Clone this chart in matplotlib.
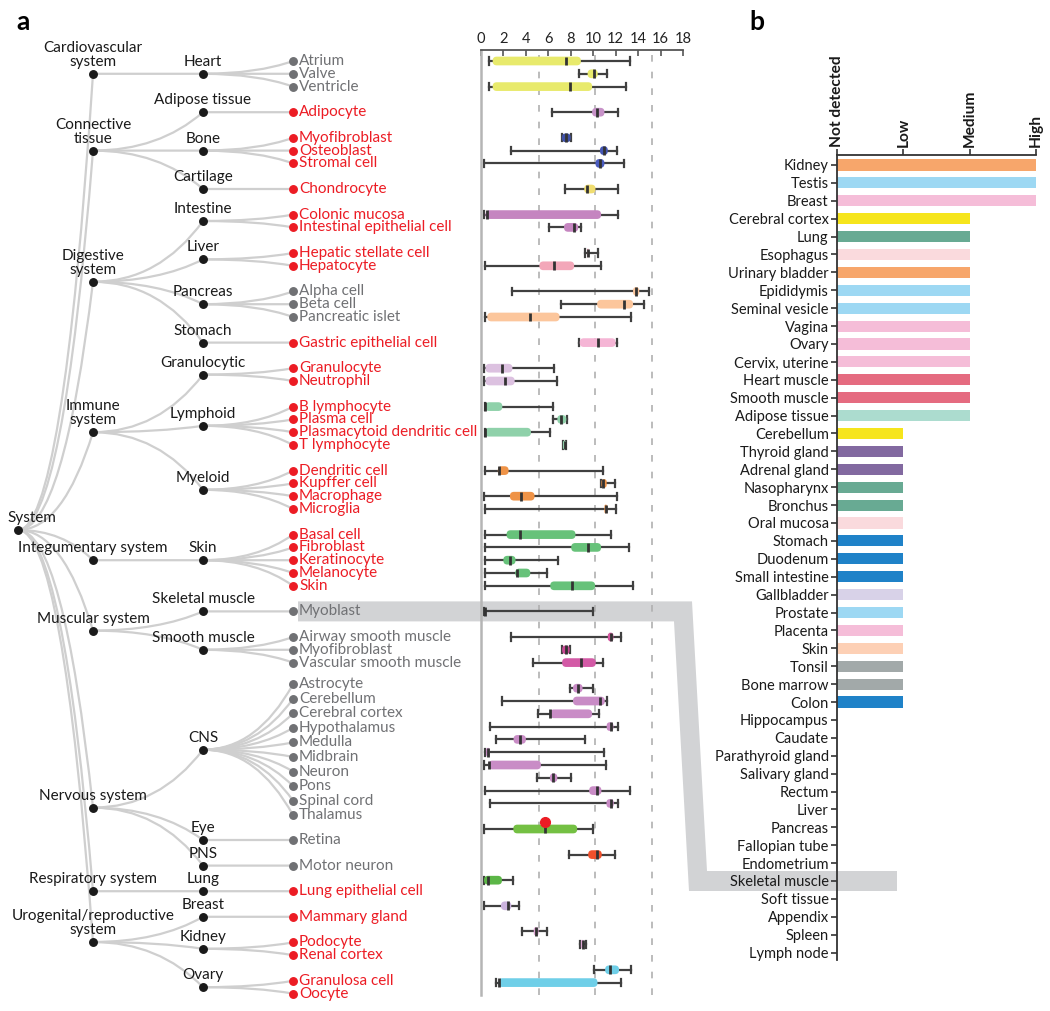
import numpy as np
import matplotlib
matplotlib.use("Agg")
import matplotlib.pyplot as plt
from matplotlib.path import Path
from matplotlib.patches import PathPatch, Polygon, FancyBboxPatch

plt.rcParams['font.family'] = ['Lato', 'DejaVu Sans']

# ---------------- panel a data ----------------
system_names = ["Cardiovascular\nsystem", "Connective\ntissue", "Digestive\nsystem", "Immune\nsystem",
                "Integumentary system", "Muscular system", "Nervous system", "Respiratory system",
                "Urogenital/reproductive\nsystem"]
organ_names = ["Heart", "Adipose tissue", "Bone", "Cartilage", "Intestine", "Liver", "Pancreas", "Stomach",
               "Granulocytic", "Lymphoid", "Myeloid", "Skin", "Skeletal muscle", "Smooth muscle",
               "CNS", "Eye", "PNS", "Lung", "Breast", "Kidney", "Ovary"]
organ_system = [0, 1, 1, 1, 2, 2, 2, 2, 3, 3, 3, 4, 5, 5, 6, 6, 6, 7, 8, 8, 8]

cell_names = ["Atrium", "Valve", "Ventricle", "Adipocyte", "Myofibroblast", "Osteoblast", "Stromal cell",
              "Chondrocyte", "Colonic mucosa", "Intestinal epithelial cell", "Hepatic stellate cell",
              "Hepatocyte", "Alpha cell", "Beta cell", "Pancreatic islet", "Gastric epithelial cell",
              "Granulocyte", "Neutrophil", "B lymphocyte", "Plasma cell", "Plasmacytoid dendritic cell",
              "T lymphocyte", "Dendritic cell", "Kupffer cell", "Macrophage", "Microglia", "Basal cell",
              "Fibroblast", "Keratinocyte", "Melanocyte", "Skin", "Myoblast", "Airway smooth muscle",
              "Myofibroblast", "Vascular smooth muscle", "Astrocyte", "Cerebellum", "Cerebral cortex",
              "Hypothalamus", "Medulla", "Midbrain", "Neuron", "Pons", "Spinal cord", "Thalamus",
              "Retina", "Motor neuron", "Lung epithelial cell", "Mammary gland", "Podocyte",
              "Renal cortex", "Granulosa cell", "Oocyte"]
cell_organ = [0, 0, 0, 1, 2, 2, 2, 3, 4, 4, 5, 5, 6, 6, 6, 7, 8, 8, 9, 9, 9, 9, 10, 10, 10, 10,
              11, 11, 11, 11, 11, 12, 13, 13, 13, 14, 14, 14, 14, 14, 14, 14, 14, 14, 14,
              15, 16, 17, 18, 19, 19, 20, 20]
cell_red = [0, 0, 0, 1, 1, 1, 1, 1, 1, 1, 1, 1, 0, 0, 0, 1, 1, 1, 1, 1, 1, 1, 1, 1, 1, 1,
            1, 1, 1, 1, 1, 0, 0, 0, 0, 0, 0, 0, 0, 0, 0, 0, 0, 0, 0,
            0, 0, 1, 1, 1, 1, 1, 1]

whislo = [0.68, 8.75, 0.68, 6.35, 7.2, 2.67, 0.27, 7.47, 0.3, 6.08, 9.3, 0.33, 2.76, 7.15, 0.39, 8.7,
          0.3, 0.3, 0.36, 6.46, 0.33, 7.3, 0.33, 10.7, 0.3, 0.36, 0.33, 0.33, 0.33, 0.33, 0.33,
          0.3, 2.7, 7.23, 4.65, 7.9, 1.9, 5.1, 0.8, 1.33, 0.39, 0.3, 4.95, 0.36, 0.8,
          0.27, 7.83, 0.27, 0.27, 3.65, 8.8, 10.1, 1.33]
q1 = [1.04, 9.5, 1.04, 9.9, 7.2, 10.6, 10.2, 9.2, 0.4, 7.4, 9.45, 5.2, 13.55, 10.35, 0.56, 8.8,
      0.4, 0.4, 0.36, 6.8, 0.33, 7.3, 1.5, 10.73, 2.58, 11.0, 2.28, 8.04, 1.99, 3.05, 6.17,
      0.3, 11.3, 7.23, 7.23, 8.2, 8.2, 6.14, 11.2, 2.9, 0.45, 0.65, 6.14, 9.64, 11.18,
      2.88, 9.55, 0.27, 1.78, 4.7, 8.9, 11.06, 1.55]
med = [7.6, 10.05, 7.9, 10.3, 7.6, 10.95, 10.6, 9.45, 0.55, 8.3, 9.55, 6.5, 13.85, 12.7, 4.4, 10.4,
       1.9, 2.1, 0.36, 7.15, 0.33, 7.47, 1.63, 10.9, 3.53, 11.1, 3.47, 9.5, 2.58, 3.17, 8.07,
       0.4, 11.6, 7.6, 8.9, 8.63, 10.6, 6.14, 11.6, 3.47, 0.65, 0.7, 6.46, 10.3, 11.6,
       5.66, 10.3, 0.65, 2.43, 4.9, 9.07, 11.47, 1.6]
q3 = [8.9, 10.4, 9.9, 11.0, 8.0, 11.3, 11.0, 10.2, 10.7, 8.66, 9.6, 8.3, 14.1, 13.55, 7.0, 12.0,
      2.8, 3.0, 1.9, 7.6, 4.45, 7.6, 2.46, 11.2, 4.77, 11.24, 8.42, 10.7, 3.08, 4.39, 10.17,
      0.5, 11.8, 7.9, 10.23, 9.05, 11.03, 9.9, 11.8, 4.0, 0.8, 5.34, 6.8, 10.73, 11.83,
      8.57, 10.76, 1.87, 2.7, 5.13, 9.2, 12.3, 10.38]
whishi = [13.3, 11.2, 12.9, 12.2, 8.0, 12.1, 12.7, 12.2, 12.2, 8.9, 10.4, 10.65, 15.0, 14.5, 13.4, 12.1,
          6.5, 6.8, 6.46, 7.65, 6.14, 7.6, 10.9, 11.95, 12.1, 12.07, 11.6, 13.2, 6.9, 5.9, 13.58,
          10.0, 12.5, 7.9, 10.9, 10.0, 11.24, 10.5, 12.25, 9.28, 11.0, 11.15, 8.04, 13.3, 12.2,
          10.0, 11.95, 2.88, 3.35, 5.9, 9.34, 13.34, 12.5]
box_colors = ["#e8ea6c", "#e8ea6c", "#e8ea6c", "#c792c8", "#3f51a8", "#4557b5", "#4a5cc0", "#f0dd70",
              "#c585c0", "#c585c0", "#f3a7b9", "#f3a7b9", "#fcc69c", "#fcc69c", "#fcc69c", "#f5b5d5",
              "#dcc1e0", "#dcc1e0", "#8fd1aa", "#8fd1aa", "#8fd1aa", "#8fd1aa",
              "#ef9347", "#ef9347", "#ef9347", "#ef9347",
              "#67c27a", "#67c27a", "#67c27a", "#67c27a", "#67c27a",
              "none", "#d4579f", "#c94895", "#d35aa6",
              "#c98cc6", "#c98cc6", "#c98cc6", "#c98cc6", "#c98cc6", "#c98cc6", "#c98cc6", "#c98cc6",
              "#c98cc6", "#c98cc6", "#74c043", "#f0502b", "#5cb647", "#cbb3de", "#e0a8d6", "#e0a8d6",
              "#6fcfe8", "#6fcfe8"]
highlight_cell = "Retina"
ref_lines = [5.2, 10.2, 15.2]
x_ticks = [0, 2, 4, 6, 8, 10, 12, 14, 16, 18]

# ---------------- panel b data ----------------
tissue_names = ["Kidney", "Testis", "Breast", "Cerebral cortex", "Lung", "Esophagus", "Urinary bladder",
                "Epididymis", "Seminal vesicle", "Vagina", "Ovary", "Cervix, uterine", "Heart muscle",
                "Smooth muscle", "Adipose tissue", "Cerebellum", "Thyroid gland", "Adrenal gland",
                "Nasopharynx", "Bronchus", "Oral mucosa", "Stomach", "Duodenum", "Small intestine",
                "Gallbladder", "Prostate", "Placenta", "Skin", "Tonsil", "Bone marrow", "Colon",
                "Hippocampus", "Caudate", "Parathyroid gland", "Salivary gland", "Rectum", "Liver",
                "Pancreas", "Fallopian tube", "Endometrium", "Skeletal muscle", "Soft tissue",
                "Appendix", "Spleen", "Lymph node"]
tissue_level = [3, 3, 3, 2, 2, 2, 2, 2, 2, 2, 2, 2, 2, 2, 2,
                1, 1, 1, 1, 1, 1, 1, 1, 1, 1, 1, 1, 1, 1, 1, 1,
                0, 0, 0, 0, 0, 0, 0, 0, 0, 0, 0, 0, 0, 0]
tissue_colors = ["#f7a66b", "#9dd8f3", "#f5bdd8", "#f6e51c", "#68aa93", "#fadadd", "#f7a66b",
                 "#9dd8f3", "#9dd8f3", "#f5bdd8", "#f5bdd8", "#f5bdd8", "#e56b80", "#e56b80",
                 "#acdccf", "#f6e51c", "#8269a0", "#8269a0", "#68aa93", "#68aa93", "#fadadd",
                 "#1f82c8", "#1f82c8", "#1f82c8", "#d8d2e8", "#9dd8f3", "#f5bdd8", "#fdd0b5",
                 "#a2a9a9", "#a2a9a9", "#1f82c8"] + ["none"] * 14
level_labels = ["Not detected", "Low", "Medium", "High"]
highlight_tissue = "Skeletal muscle"
highlight_link = "Myoblast"

# ---------------- layout (pixels) ----------------
W, H = 1050, 1011
RED, GREY, LINE = "#ec1c24", "#707174", "#cfcfcf"
fig = plt.figure(figsize=(W / 100, H / 100), dpi=100)

def rect(x0, y0, x1, y1):
    return [x0 / W, 1 - y1 / H, (x1 - x0) / W, (y1 - y0) / H]

ax0 = fig.add_axes([0, 0, 1, 1])
ax0.set_xlim(0, W)
ax0.set_ylim(H, 0)
ax0.axis('off')
ax0.set_zorder(0)

n_cells = len(cell_names)
slot = np.arange(n_cells) + np.array(cell_organ)
ROW0, STEP = 61.0, 12.8
box_px = ROW0 + slot * STEP

# tree leaf positions (CNS block slightly stretched in the tree)
tree_y = box_px.copy()
cns = [i for i in range(n_cells) if cell_organ[i] == 14]
for k, i in enumerate(cns):
    tree_y[i] += -4 + k * 1.75
for i in range(n_cells):
    if cell_organ[i] > 14:
        tree_y[i] += 11

X0, X1, X2, X3 = 18, 93, 203, 293
organ_y = []
for o in range(len(organ_names)):
    ys = [tree_y[i] for i in range(n_cells) if cell_organ[i] == o]
    organ_y.append((min(ys) + max(ys)) / 2)
system_y = []
for s in range(len(system_names)):
    ys = [organ_y[o] for o in range(len(organ_names)) if organ_system[o] == s]
    system_y.append((min(ys) + max(ys)) / 2)
system_y[-1] -= 10
root_y = np.mean(system_y)

def link(p, c):
    (px, py), (cx, cy) = p, c
    ctrl = (px + 0.6 * (cx - px), py)
    path = Path([p, ctrl, c], [Path.MOVETO, Path.CURVE3, Path.CURVE3])
    ax0.add_patch(PathPatch(path, fc='none', ec=LINE, lw=1.6, zorder=1))

for s, y in enumerate(system_y):
    link((X0, root_y), (X1, y))
for o, y in enumerate(organ_y):
    link((X1, system_y[organ_system[o]]), (X2, y))
for i in range(n_cells):
    link((X2, organ_y[cell_organ[i]]), (X3, tree_y[i]))

# highlight band (behind everything)
ax_b_row0, ax_b_step = 165.0, 17.9
ym = box_px[cell_names.index(highlight_link)]
yb = ax_b_row0 + tissue_names.index(highlight_tissue) * ax_b_step
hh = 10
band = Polygon([(298, ym - hh), (692, ym - hh), (707, yb - hh), (897, yb - hh), (897, yb + hh),
                (689, yb + hh), (674, ym + hh), (298, ym + hh)], closed=True,
               fc="#d2d3d5", ec='none', zorder=0.5)
ax0.add_patch(band)

ax0.plot([X0], [root_y], 'o', color='#1a1a1a', ms=5.4, zorder=3)
ax0.plot([X1] * len(system_y), system_y, 'o', color='#1a1a1a', ms=5.4, zorder=3, ls='none')
ax0.plot([X2] * len(organ_y), organ_y, 'o', color='#1a1a1a', ms=5.4, zorder=3, ls='none')
for i in range(n_cells):
    col = RED if cell_red[i] else GREY
    ax0.plot([X3], [tree_y[i]], 'o', color=col, ms=5.4, zorder=3)
    ax0.text(X3 + 6, tree_y[i], cell_names[i], color=col, fontsize=11, ha='left', va='center', zorder=4)

ax0.text(7, root_y - 5, "System", fontsize=11, ha='left', va='bottom', color='#1a1a1a')
for s, y in enumerate(system_y):
    ax0.text(X1, y - 5, system_names[s], fontsize=11, ha='center', va='bottom',
             color='#1a1a1a', linespacing=1.0, zorder=4)
for o, y in enumerate(organ_y):
    ax0.text(X2, y - 5, organ_names[o], fontsize=11, ha='center', va='bottom', color='#1a1a1a', zorder=4)

ax0.text(23, 22, "a", fontsize=19, fontweight='bold', ha='center', va='center')
ax0.text(757, 22, "b", fontsize=19, fontweight='bold', ha='center', va='center')

# ---------------- box plot axis ----------------
top_px, bot_px = 50, 995
axb = fig.add_axes(rect(481, top_px, 683, bot_px))
axb.set_facecolor('none')
axb.set_zorder(1)
stats = [dict(med=med[i], q1=q1[i], q3=q3[i], whislo=whislo[i], whishi=whishi[i], fliers=[])
         for i in range(n_cells)]
kw = dict(positions=slot, widths=0.68, showbox=False, showfliers=False, capwidths=0.55,
          manage_ticks=False,
          whiskerprops=dict(color='#404040', linewidth=1.6),
          capprops=dict(color='#404040', linewidth=1.6),
          medianprops=dict(color='#333333', linewidth=2.0))
try:
    res = axb.bxp(stats, orientation='horizontal', **kw)
except TypeError:
    res = axb.bxp(stats, vert=False, **kw)
for ln in res['medians']:
    ln.set_zorder(4)
for ln in res['whiskers'] + res['caps']:
    ln.set_zorder(2)

# rounded boxes
BOX_H = 0.68
x_px = 202 / 18.0
aspect = x_px / STEP
for i in range(n_cells):
    if box_colors[i] == 'none':
        continue
    w = q3[i] - q1[i]
    r = min(0.36, w / 2, BOX_H / aspect / 2)
    bb = FancyBboxPatch((q1[i], slot[i] - BOX_H / 2), w, BOX_H,
                        boxstyle=f"round,pad=0,rounding_size={r}", mutation_aspect=aspect,
                        fc=box_colors[i], ec='none', zorder=3)
    axb.add_patch(bb)

hi = cell_names.index(highlight_cell)
axb.plot([med[hi]], [slot[hi] - 0.55], 'o', color=RED, ms=7, zorder=5)

for v in ref_lines:
    axb.axvline(v, color='#b0b0b0', lw=1.2, ls=(0, (4, 6)), zorder=0)
axb.set_xlim(0, 18)
axb.set_ylim((bot_px - ROW0) / STEP, (top_px - ROW0) / STEP)
axb.xaxis.tick_top()
axb.set_xticks(x_ticks)
axb.set_yticks([])
axb.tick_params(axis='x', direction='in', length=4, width=1.2, color='#555555', labelsize=10.5,
                pad=3, labelcolor='#222222')
for sp in ['right', 'bottom']:
    axb.spines[sp].set_visible(False)
axb.spines['left'].set_color('#b5b5b5')
axb.spines['left'].set_linewidth(1.8)
axb.spines['top'].set_color('#555555')
axb.spines['top'].set_linewidth(1.3)

# ---------------- panel b ----------------
b_top, b_bot = 155, 960
axc = fig.add_axes(rect(837, b_top, 1036, b_bot))
axc.set_facecolor('none')
axc.set_zorder(1)
rows = np.arange(len(tissue_names))
axc.barh(rows, tissue_level, height=0.62, color=tissue_colors, zorder=2)
axc.set_xlim(0, 3)
axc.set_ylim((b_bot - ax_b_row0) / ax_b_step, (b_top - ax_b_row0) / ax_b_step)
axc.xaxis.tick_top()
axc.set_xticks(range(len(level_labels)))
axc.set_xticklabels(level_labels, rotation=90, fontweight='bold', fontsize=11.2, va='bottom')
axc.set_yticks(rows)
axc.set_yticklabels(tissue_names, fontsize=10.5)
axc.tick_params(axis='both', length=4, width=1.2, color='#333333', pad=2, labelcolor='#1a1a1a')
for sp in ['right', 'bottom']:
    axc.spines[sp].set_visible(False)
for sp in ['left', 'top']:
    axc.spines[sp].set_color('#333333')
    axc.spines[sp].set_linewidth(1.3)

fig.savefig("out.png", dpi=100)
